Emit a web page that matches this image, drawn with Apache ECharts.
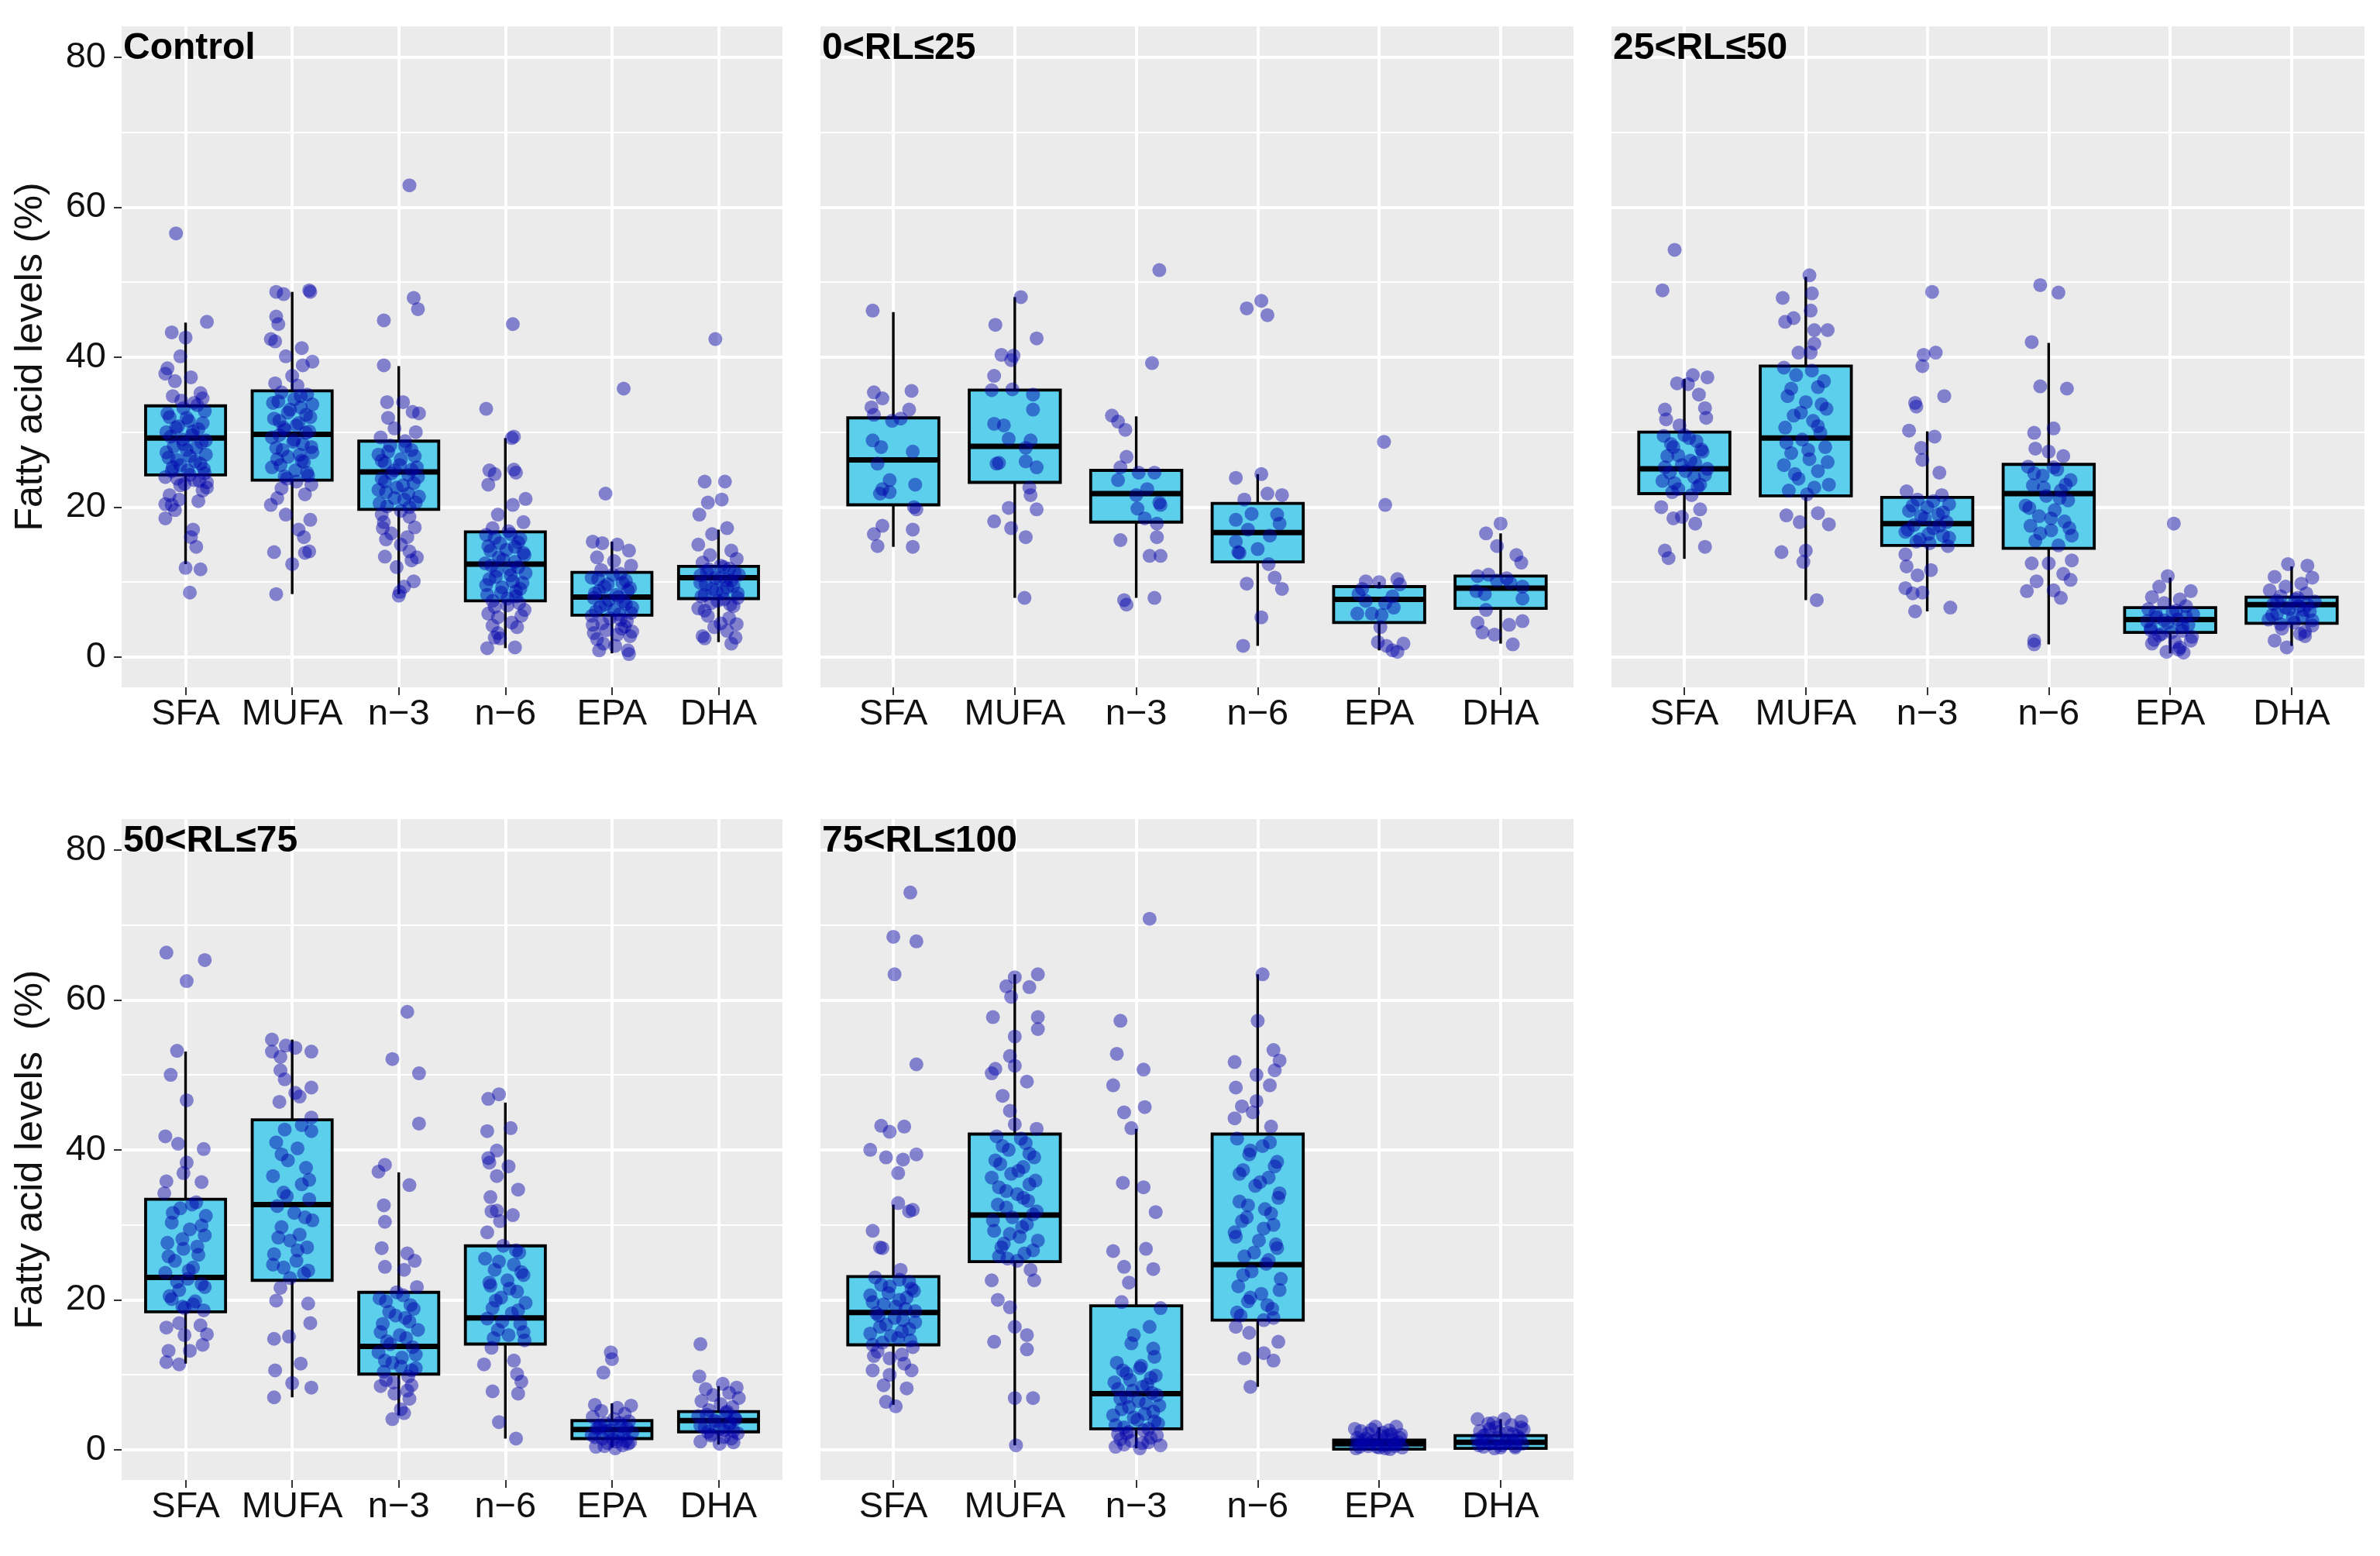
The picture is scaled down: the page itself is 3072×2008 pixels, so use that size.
<!DOCTYPE html>
<html>
<head>
<meta charset="utf-8">
<script src="https://cdn.jsdelivr.net/npm/echarts@6/dist/echarts.min.js"></script>
<style>
html,body{margin:0;padding:0;background:#fff;}
#chart{width:3072px;height:2008px;}
</style>
</head>
<body>
<div id="chart"></div>
<script>
// categories and panel labels
var cats = ['SFA', 'MUFA', 'n\u22123', 'n\u22126', 'EPA', 'DHA'];
var panelTitles = ['Control', '0<RL\u226425', '25<RL\u226450', '50<RL\u226475', '75<RL\u2264100'];
var yTicks = [0, 20, 40, 60, 80];
var yMinor = [10, 30, 50, 70];
var xTicks = [0, 1, 2, 3, 4, 5];

// box stats per category: [lower whisker, Q1, median, Q3, upper whisker]
var ctrlBox = [[12.4,24.3,29.2,33.5,44.6],[8.4,23.6,29.7,35.5,48.7],[8.4,19.7,24.7,28.8,38.8],[1.2,7.5,12.4,16.7,29.2],[0.5,5.6,8.0,11.3,15.4],[2.0,7.8,10.6,12.1,17.0]];
var rl25Box = [[14.7,20.3,26.3,31.9,46.0],[7.9,23.3,28.1,35.6,48.0],[7.9,18.0,21.8,24.9,32.1],[1.5,12.7,16.6,20.5,24.4],[0.9,4.6,7.7,9.4,10.0],[1.8,6.5,9.2,10.8,16.5]];
var rl50Box = [[13.1,21.8,25.1,30.0,37.1],[7.6,21.5,29.2,38.8,50.7],[6.1,14.9,17.8,21.3,30.1],[1.7,14.5,21.8,25.7,41.9],[0.5,3.3,5.0,6.6,10.6],[1.5,4.5,7.0,8.0,12.1]];
var rl75Box = [[11.5,18.4,23.0,33.4,53.1],[7.0,22.6,32.7,44.0,54.7],[4.6,10.1,13.8,21.0,37.0],[1.5,14.1,17.6,27.2,46.3],[0.3,1.5,2.7,3.9,6.2],[0.7,2.4,3.9,5.1,8.5]];
var rl100Box = [[6.0,14.0,18.3,23.1,32.7],[0.6,25.1,31.3,42.1,63.4],[0.2,2.8,7.5,19.2,42.8],[8.4,17.3,24.7,42.1,63.4],[0,0.1,0.8,1.3,3.0],[0,0.2,1.0,1.9,4.1]];

// jittered points: [offset from category, value]
var ctrlSFA = [[-0.09,56.5],[0.2,44.7],[-0.13,43.3],[0,42.6],[-0.05,40.1],[-0.17,38.5],[-0.19,37.8],[-0.1,36.8],[0.05,37.3],[0.14,35.2],[0.16,34.5],[-0.12,34.8],[0.08,33.9],[-0.02,33.2],[0.18,32.8],[-0.15,32.0],[0.03,31.5],[-0.07,30.8],[0.12,30.4],[-0.18,30.0],[0.06,29.6],[-0.03,29.0],[0.15,28.6],[-0.11,28.1],[0.01,27.6],[0.19,27.0],[-0.16,26.6],[0.09,26.1],[-0.05,25.6],[0.17,25.1],[-0.13,24.8],[0.04,24.3],[-0.08,23.8],[0.13,23.5],[-0.01,23.1],[0.2,22.6],[0.2,23.3],[-0.19,20.4],[-0.13,20.3],[-0.06,21.0],[-0.19,18.5],[0.07,17.0],[0.1,14.7],[0.05,16.0],[0,11.9],[0.14,11.7],[0.04,8.6],
  [-0.04,34.2],[0.11,33.6],[-0.17,32.5],[0.01,31.9],[0.16,31.2],[-0.09,30.6],[0.07,30.1],[-0.14,29.4],[0.19,28.9],[-0.02,28.4],[0.1,27.9],[-0.18,27.3],[0.04,26.8],[-0.08,26.3],[0.14,25.8],[-0.12,25.3],[0.02,24.9],[0.18,24.5],[-0.19,24.0],[0.08,23.6],[-0.05,22.9],[0.16,22.2],[-0.15,21.6],[0.12,20.8],[-0.1,19.6]];
var ctrlMUFA = [[-0.15,48.7],[0.17,48.7],[0.16,48.9],[-0.08,48.4],[-0.15,45.4],[-0.13,44.4],[-0.2,42.4],[-0.16,42.1],[0.09,41.2],[-0.06,40.1],[0.19,39.4],[0.1,38.9],[0,37.5],[-0.16,36.5],[0.05,36.2],[-0.1,35.3],[0.14,35.0],[0.02,34.4],[-0.18,33.9],[0.08,33.3],[-0.04,32.6],[0.17,32.0],[-0.12,31.5],[0.04,30.9],[-0.07,30.3],[0.13,29.9],[-0.19,29.3],[0.01,28.7],[0.18,28.0],[-0.09,27.6],[0.07,27.0],[-0.14,26.4],[0.11,26.0],[-0.11,25.6],[0.03,24.9],[0.15,24.2],[-0.05,23.8],[0.18,23.0],[-0.2,20.3],[-0.06,19.0],[0.17,18.3],[0.06,17.0],[0.11,16.0],[-0.17,14.0],[0.12,13.9],[0.16,14.1],[0,12.4],[-0.15,8.4],
  [0.08,34.8],[-0.13,34.1],[0.19,33.7],[-0.02,33.0],[0.13,32.3],[-0.17,31.8],[0.06,31.2],[-0.08,30.6],[0.16,30.1],[-0.12,29.6],[0.02,29.0],[0.1,28.4],[-0.15,27.9],[0.19,27.3],[-0.04,26.7],[0.09,26.2],[-0.19,25.3],[0.14,24.6],[-0.07,24.1],[0.04,23.4],[-0.1,22.5],[0.12,21.7],[-0.14,21.2]];
var ctrlN3 = [[0.1,62.9],[0.14,47.9],[0.18,46.4],[-0.14,44.9],[-0.14,38.9],[-0.11,34.0],[0.04,34.0],[0.19,32.5],[0.13,32.7],[-0.1,31.9],[-0.04,30.5],[0.16,30.0],[-0.17,29.3],[0.06,28.8],[-0.08,28.2],[0.12,27.6],[-0.19,27.0],[0.02,26.4],[-0.13,25.9],[0.17,25.3],[-0.04,24.9],[0.09,24.3],[-0.16,23.8],[0.14,23.2],[-0.02,22.6],[-0.12,22.0],[0.19,21.4],[0.05,21.0],[-0.18,20.5],[0.1,20.0],[-0.14,18.0],[-0.16,19.0],[0.1,18.7],[-0.07,16.5],[0.15,17.3],[-0.12,15.7],[0.02,15.0],[0.1,14.1],[-0.13,13.4],[0.17,13.3],[0.12,12.9],[0.14,10.1],[0.05,9.4],[0.01,8.7],[0,8.2],
  [0.06,28.1],[-0.1,27.4],[0.15,26.8],[-0.16,26.2],[0.01,25.6],[0.12,25.0],[-0.07,24.5],[0.18,24.0],[-0.13,23.4],[0.04,22.9],[-0.19,22.3],[0.09,21.8],[-0.04,21.2],[0.16,20.6],[-0.11,20.1],[0.02,19.5],[-0.15,17.2],[0.08,16.0],[-0.02,12.0]];
var ctrlN6 = [[0.07,44.4],[-0.18,33.1],[0.06,29.2],[0.08,29.4],[-0.15,24.9],[-0.1,24.4],[0.08,25.0],[0.1,24.6],[-0.16,23.0],[0.19,21.1],[0.07,20.3],[-0.07,19.0],[0.17,18.0],[-0.12,17.2],[0.03,16.8],[-0.18,16.3],[0.14,15.8],[-0.05,15.2],[0.09,14.7],[-0.14,14.2],[0.18,13.6],[-0.02,13.0],[-0.19,12.5],[0.12,12.0],[-0.08,11.5],[0.05,10.9],[-0.15,10.4],[0.16,9.9],[-0.03,9.3],[0.1,8.8],[-0.17,8.3],[0.02,7.8],[0.13,7.2],[-0.1,6.7],[-0.16,5.8],[0.15,5.5],[-0.12,4.2],[0.11,4.0],[-0.07,3.2],[-0.1,2.6],[-0.17,1.2],[0.09,1.3],[-0.05,2.5],
  [0.05,16.4],[-0.1,15.9],[0.12,15.3],[-0.16,14.8],[0.01,14.3],[0.17,13.9],[-0.06,13.3],[0.09,12.7],[-0.13,12.2],[0.04,11.7],[0.19,11.2],[-0.09,10.7],[0.07,10.1],[-0.18,9.6],[0.14,9.1],[-0.04,8.6],[0.1,8.1],[-0.12,7.5],[0.02,6.9],[0.18,6.3],[-0.07,5.3],[0.06,4.6]];
var ctrlEPA = [[0.11,35.8],[-0.06,21.8],[-0.18,15.4],[-0.09,15.2],[0.05,15.0],[0.16,14.2],[-0.14,13.3],[0.02,12.8],[0.18,12.2],[-0.1,11.6],[0.08,11.1],[-0.19,10.6],[0.13,10.2],[-0.04,9.7],[0.17,9.2],[-0.12,8.8],[0.04,8.3],[-0.17,7.9],[0.11,7.4],[-0.06,7.0],[0.19,6.6],[-0.15,6.1],[0.07,5.7],[-0.02,5.2],[0.14,4.8],[-0.18,4.3],[0.09,3.8],[-0.17,3.2],[0.05,3.0],[0.17,2.8],[-0.12,0.9],[0.16,0.4],[0.15,0.9],[-0.08,1.8],
  [0.01,11.0],[-0.13,10.4],[0.1,9.9],[-0.07,9.4],[0.15,8.9],[-0.16,8.5],[0.06,8.0],[-0.03,7.6],[0.13,7.1],[-0.11,6.7],[0.02,6.3],[0.18,5.9],[-0.19,5.5],[0.08,5.0],[-0.09,4.5],[0.12,4.1],[-0.05,3.6],[0.19,3.4],[-0.14,2.4],[0.03,1.5]];
var ctrlDHA = [[-0.03,42.4],[-0.13,23.4],[0.06,23.4],[-0.1,20.6],[0.03,21.0],[-0.18,19.0],[-0.06,16.4],[0.08,17.2],[-0.19,15.0],[0.12,14.2],[-0.08,13.6],[0.17,13.1],[-0.15,12.6],[0.02,12.2],[0.1,11.8],[-0.11,11.4],[0.19,11.0],[-0.03,10.6],[0.07,10.3],[-0.17,9.9],[0.14,9.5],[-0.06,9.1],[0.04,8.7],[-0.13,8.3],[0.18,7.9],[-0.01,7.5],[0.11,7.0],[-0.19,6.5],[-0.1,5.5],[0.02,4.5],[0.17,4.4],[-0.15,2.8],[0.12,1.8],[-0.13,2.5],[0.08,3.5],
  [0.05,12.0],[-0.09,11.7],[0.15,11.3],[-0.17,10.9],[0.01,10.5],[0.12,10.2],[-0.12,9.7],[0.08,9.3],[-0.02,8.9],[0.18,8.5],[-0.16,8.1],[0.05,7.7],[-0.07,7.2],[0.14,6.8],[-0.13,6.2],[0.1,5.2],[-0.04,4.0],[0.16,2.6]];

var rl25SFA = [[-0.17,46.2],[-0.16,35.3],[-0.09,34.5],[0.15,35.5],[-0.18,33.3],[0.13,33.0],[-0.16,32.3],[-0.01,31.5],[0.06,31.8],[-0.17,28.9],[-0.1,28.0],[0.16,27.4],[-0.13,25.8],[-0.03,23.6],[0.18,23.0],[-0.09,22.4],[-0.11,21.8],[-0.03,22.0],[0.17,20.0],[0.19,19.7],[-0.09,17.5],[0.16,17.0],[-0.16,16.4],[-0.13,14.8],[0.16,14.7]];
var rl25MUFA = [[0.05,48.0],[-0.16,44.3],[0.18,42.5],[-0.11,40.3],[-0.01,40.2],[-0.03,39.6],[-0.17,37.5],[-0.19,35.6],[-0.02,35.7],[0.15,35.0],[0.15,33.0],[-0.17,31.1],[-0.09,30.9],[-0.05,29.1],[0.13,28.9],[0.09,27.9],[-0.13,25.9],[-0.15,25.8],[0.18,25.3],[0.09,26.1],[0.12,22.6],[0.13,21.6],[-0.05,19.9],[0.18,19.7],[-0.17,18.1],[-0.03,17.2],[0.09,16.0],[0.08,7.9]];
var rl25N3 = [[0.19,51.6],[0.13,39.2],[-0.2,32.2],[-0.15,31.4],[-0.09,30.3],[-0.08,26.7],[-0.13,25.3],[0.02,24.6],[0.15,24.6],[-0.15,23.6],[0.09,22.4],[0,21.6],[0.19,20.6],[0.2,20.3],[0.01,19.8],[0.07,18.5],[0.17,17.8],[-0.13,15.6],[0.17,16.0],[0.11,13.5],[0.2,13.5],[-0.1,7.6],[-0.08,7.0],[0.15,7.9]];
var rl25N6 = [[0.03,47.5],[-0.09,46.5],[0.08,45.6],[0.03,24.4],[-0.18,23.9],[0.08,21.8],[0.2,21.6],[-0.11,21.0],[-0.18,18.3],[-0.05,19.1],[0.16,19.0],[0.18,17.8],[-0.18,15.4],[-0.16,14.0],[-0.15,13.9],[0,14.4],[0.09,12.4],[0.14,10.6],[-0.09,9.8],[0.2,9.1],[0.03,5.3],[-0.12,1.5],[0.1,16.2],[-0.08,17.0]];
var rl25EPA = [[0.04,28.7],[0.05,20.3],[-0.11,10.1],[0,10.0],[0.15,10.4],[0.17,9.7],[-0.17,8.4],[-0.11,7.5],[0.11,8.1],[0.05,7.2],[-0.18,5.8],[-0.06,5.8],[0.02,5.6],[0.01,4.0],[-0.01,2.0],[0.06,1.5],[0.11,0.9],[0.2,1.8],[0.15,0.7],[-0.14,9.1],[0.12,6.6]];
var rl25DHA = [[0,17.8],[-0.12,16.5],[-0.03,14.8],[0.13,13.6],[0.17,12.6],[-0.19,10.8],[-0.1,11.0],[0.05,10.5],[0.18,9.4],[-0.2,8.8],[-0.13,8.4],[0.18,7.8],[-0.12,6.3],[-0.19,4.6],[0.18,4.8],[-0.15,3.3],[0.07,4.3],[-0.05,3.0],[0.1,1.7],[0.08,9.9],[-0.03,10.2]];

var rl50SFA = [[-0.08,54.3],[-0.18,48.9],[0.07,37.6],[0.19,37.3],[-0.06,36.5],[0.03,36.4],[0.12,35.0],[-0.16,33.0],[-0.15,31.7],[0.17,33.2],[0.18,31.9],[-0.04,30.9],[0,29.6],[-0.17,29.5],[0.1,28.8],[-0.09,28.0],[0.15,27.4],[-0.14,26.8],[0.05,26.2],[-0.02,25.6],[0.19,25.1],[-0.12,24.6],[0.08,24.0],[-0.18,23.5],[0.13,23.0],[-0.05,22.4],[-0.1,22.0],[0.06,21.6],[-0.19,20.0],[0.13,19.7],[-0.09,18.5],[-0.02,18.7],[0.09,17.8],[-0.16,14.2],[-0.13,13.2],[0.17,14.7],
  [0.04,29.2],[-0.11,28.4],[0.14,27.7],[-0.05,26.9],[0.09,25.9],[-0.16,25.3],[0.01,24.8],[0.17,24.3],[-0.08,23.2],[0.11,22.7]];
var rl50MUFA = [[0.03,50.9],[0.05,48.5],[-0.19,47.9],[0.04,46.2],[-0.1,45.2],[-0.17,44.7],[0.07,43.6],[0.18,43.6],[0.07,41.8],[-0.06,40.6],[0.04,40.6],[-0.18,38.6],[-0.08,37.6],[0.15,36.8],[0.1,36.0],[-0.15,34.8],[0,34.0],[0.17,33.1],[-0.1,32.2],[0.06,31.5],[-0.17,30.6],[0.12,29.9],[-0.03,29.0],[0.16,28.0],[-0.12,27.2],[0.03,26.4],[-0.18,25.6],[0.1,24.8],[-0.06,23.8],[0.19,23.0],[-0.14,22.2],[0.01,21.7],[-0.16,18.9],[-0.05,18.0],[0.1,19.2],[0.19,17.7],[-0.2,14.0],[0,14.2],[-0.02,12.7],[0.09,7.6],
  [0.05,38.2],[-0.12,35.8],[0.13,33.7],[-0.04,32.6],[0.1,30.8],[-0.16,28.6],[0.02,27.6],[0.18,26.0],[-0.09,24.4],[0.07,22.6]];
var rl50N3 = [[0.04,48.7],[0.07,40.6],[-0.03,40.3],[-0.04,38.8],[-0.1,33.9],[-0.09,33.4],[0.14,34.8],[-0.15,30.2],[0.06,29.4],[-0.05,27.9],[-0.04,26.3],[0.1,24.6],[-0.17,22.1],[0.12,21.6],[-0.08,21.0],[0.18,20.4],[0,20.0],[-0.15,19.5],[0.09,19.0],[-0.02,18.5],[0.16,18.0],[-0.11,17.6],[0.05,17.2],[-0.18,16.7],[0.13,16.2],[-0.06,15.7],[0.02,15.2],[0.17,14.8],[-0.18,13.7],[-0.17,12.1],[-0.08,10.9],[0.03,11.6],[-0.18,9.2],[-0.12,8.5],[-0.04,8.6],[-0.1,6.1],[0.19,6.6],
  [0.05,20.8],[-0.12,20.2],[0.13,19.3],[-0.05,18.8],[0.1,17.5],[-0.16,17.0],[0.01,16.4],[0.18,15.9],[-0.09,15.4]];
var rl50N6 = [[-0.07,49.6],[0.08,48.6],[-0.14,42.0],[-0.07,36.1],[0.15,35.8],[-0.12,29.9],[0.04,30.5],[-0.11,27.8],[0,27.4],[0.12,26.8],[-0.17,25.4],[0.07,25.0],[-0.05,24.2],[0.18,23.6],[-0.13,22.9],[0.1,22.2],[-0.02,21.5],[0.16,20.9],[-0.19,20.2],[0.05,19.6],[-0.08,18.8],[0.13,18.1],[-0.15,17.5],[0.02,16.9],[0.19,16.2],[-0.11,15.5],[0.08,14.9],[-0.14,12.5],[0,12.5],[0.19,12.9],[0.12,11.1],[-0.1,10.1],[0.18,10.3],[-0.18,8.8],[0.04,8.9],[0.1,7.9],[-0.12,2.2],[-0.12,1.7],
  [0.04,25.3],[-0.12,24.5],[0.14,23.0],[-0.04,22.6],[0.09,21.2],[-0.16,19.9],[0.02,18.5],[0.17,17.2],[-0.07,16.5]];
var rl50EPA = [[0.03,17.8],[-0.02,10.8],[-0.09,9.4],[0.17,8.8],[-0.15,8.0],[0.08,7.7],[-0.05,7.2],[0.13,6.8],[-0.18,6.4],[0.02,6.0],[0.19,5.7],[-0.11,5.3],[0.06,5.0],[-0.02,4.6],[0.15,4.3],[-0.16,3.9],[0.1,3.5],[-0.07,3.1],[0.18,2.7],[-0.13,2.3],[0.04,2.0],[-0.15,1.8],[-0.03,0.7],[0.11,0.6],[0.08,1.3],[-0.19,4.8],
  [0.05,6.2],[-0.12,5.9],[0.13,5.4],[-0.05,4.9],[0.1,4.1],[-0.16,3.6],[0.01,3.3],[0.17,2.2],[-0.09,2.9],[0.07,1.0]];
var rl50DHA = [[-0.03,12.4],[0.13,12.2],[0.17,10.6],[-0.14,10.7],[-0.05,9.4],[0.08,9.8],[-0.18,8.9],[0.12,8.5],[-0.09,8.1],[0.03,7.7],[0.19,7.4],[-0.15,7.1],[0.06,6.8],[-0.02,6.4],[0.15,6.1],[-0.12,5.8],[0.09,5.4],[-0.19,5.0],[0.02,4.6],[0.17,4.2],[-0.08,3.8],[0.11,3.4],[-0.14,2.2],[0.11,2.8],[-0.04,1.3],
  [0.05,7.9],[-0.12,7.5],[0.13,7.0],[-0.05,6.6],[0.1,6.3],[-0.16,5.6],[0.01,5.2],[0.17,4.9],[-0.09,4.4],[0.07,3.1]];

var rl75SFA = [[-0.18,66.3],[0.18,65.3],[0.01,62.5],[-0.08,53.2],[-0.14,50.0],[0.01,46.6],[-0.19,41.8],[-0.07,40.8],[0.17,40.1],[0.01,38.3],[-0.02,36.9],[-0.18,35.8],[0.15,35.7],[-0.2,34.2],[0.1,33.0],[-0.05,32.2],[0.19,31.2],[-0.13,30.3],[0.04,29.4],[0.18,28.6],[-0.17,27.6],[-0.02,26.8],[0.12,26.0],[-0.1,25.2],[0.07,24.3],[-0.19,23.6],[0.02,22.8],[0.15,22.1],[-0.06,21.3],[-0.15,20.5],[0.09,19.8],[-0.03,19.1],[0.17,18.6],[-0.06,16.9],[0.14,16.6],[-0.18,16.3],[-0.01,15.3],[0.2,15.4],[0.16,14.0],[-0.16,13.2],[0.04,13.2],[-0.18,11.7],[-0.06,11.4],
  [0.06,32.7],[-0.12,31.6],[0.15,29.9],[-0.03,28.1],[0.11,27.1],[-0.16,25.8],[0.03,23.9],[-0.08,22.4],[0.18,21.7],[-0.13,20.1],[0.07,19.4],[-0.01,18.9]];
var rl75MUFA = [[-0.19,54.7],[-0.19,53.1],[-0.06,53.9],[0.03,53.6],[0.18,53.1],[-0.11,52.4],[-0.11,50.6],[-0.07,49.4],[0.18,48.3],[0.03,47.6],[0.07,47.1],[-0.12,46.4],[0.18,44.3],[-0.07,42.7],[0.18,42.5],[-0.15,41.0],[0.05,40.2],[-0.04,38.6],[0.13,37.6],[-0.18,36.5],[0.09,35.4],[-0.08,34.3],[0.16,33.4],[-0.14,32.5],[0.02,31.6],[0.19,30.6],[-0.1,29.7],[0.07,28.7],[-0.02,27.9],[0.14,27.0],[-0.17,26.1],[0.04,25.2],[-0.08,24.3],[0.11,23.5],[-0.11,21.6],[-0.15,19.9],[0.15,19.5],[0.17,16.9],[-0.17,14.8],[-0.03,15.1],[0.08,11.5],[-0.16,10.6],[0,8.9],[0.18,8.3],[-0.17,7.0],
  [0.09,43.3],[-0.1,39.4],[0.16,36.0],[-0.05,33.8],[0.12,31.0],[-0.13,28.3],[0.05,26.6],[-0.18,24.7],[0.15,23.9],[-0.02,22.9]];
var rl75N3 = [[0.08,58.4],[-0.06,52.1],[0.19,50.2],[0.19,43.5],[-0.13,38.0],[-0.19,37.1],[0.1,35.3],[-0.14,32.6],[-0.13,30.4],[-0.16,26.9],[0.08,26.2],[0.15,25.2],[-0.13,24.4],[0.05,24.0],[0.17,21.7],[-0.02,21.0],[-0.18,20.2],[0.11,19.3],[-0.09,18.4],[0.06,17.6],[-0.15,16.8],[0.18,16.0],[0.01,15.3],[-0.11,14.5],[0.13,13.7],[-0.19,13.0],[0.03,12.3],[-0.06,11.6],[0.16,10.9],[-0.14,10.4],[0.09,9.8],[-0.17,8.5],[-0.04,7.5],[0.1,6.8],[0.02,5.4],[0.05,4.9],[-0.06,4.1],[-0.12,9.3],[0.12,8.6],
  [0.04,20.6],[-0.12,19.8],[0.14,18.8],[-0.03,17.9],[0.1,17.1],[-0.17,15.7],[0.07,14.9],[-0.08,14.1],[0.16,12.7],[-0.13,11.9],[0.02,11.1],[0.12,10.6],[-0.05,9.0],[0.08,7.9]];
var rl75N6 = [[-0.16,46.8],[-0.06,47.4],[-0.17,42.5],[0.05,42.9],[-0.16,38.9],[-0.15,38.3],[-0.08,39.9],[0.03,37.8],[-0.08,36.5],[0.12,34.7],[-0.14,33.7],[-0.13,31.8],[-0.08,31.9],[0.07,31.3],[-0.05,30.5],[-0.17,29.0],[-0.02,27.2],[0.13,26.3],[-0.19,25.5],[0.08,24.7],[-0.1,24.0],[0.17,23.3],[0.02,22.6],[-0.14,21.9],[0.11,21.1],[-0.04,20.3],[0.19,19.6],[-0.12,18.9],[0.06,18.2],[-0.17,17.5],[0.14,16.8],[-0.07,16.0],[0.03,15.3],[0.18,14.6],[-0.13,13.6],[-0.2,11.4],[0.08,11.9],[0.11,10.1],[0.15,9.1],[-0.12,7.8],[0.12,7.5],[-0.06,3.7],[0.1,1.5],
  [0.1,26.6],[-0.06,25.1],[0.15,23.7],[-0.15,22.3],[0.04,21.5],[-0.09,19.9],[0.12,18.6],[-0.03,17.1],[0.17,15.7],[-0.11,14.9]];
var rl75EPA = [[-0.01,13.0],[0,12.1],[-0.08,10.3],[-0.16,6.0],[0.18,5.9],[0.05,5.6],[-0.1,5.2],[0.12,4.8],[-0.18,4.4],[0.02,4.1],[0.16,3.8],[-0.06,3.5],[0.09,3.2],[-0.14,2.9],[-0.02,2.6],[0.19,2.3],[-0.19,2.0],[0.06,1.8],[-0.09,1.5],[0.13,1.2],[-0.04,0.9],[0.1,0.6],[-0.15,0.4],[0.03,0.2],[0.17,1.0],[-0.12,3.0],
  [0.07,3.6],[-0.11,3.3],[0.14,2.9],[-0.04,2.5],[0.11,2.1],[-0.16,1.7],[0.01,1.4],[0.15,0.8],[-0.07,0.5],[0.04,1.1]];
var rl75DHA = [[-0.17,14.1],[-0.18,9.8],[0.04,8.8],[0.17,8.3],[-0.12,8.1],[0.1,7.6],[-0.05,7.3],[0.19,6.9],[-0.16,6.5],[0.02,6.1],[0.13,5.7],[-0.09,5.3],[0.07,4.9],[-0.19,4.5],[0.16,4.1],[-0.02,3.8],[0.1,3.4],[-0.13,3.0],[0.05,2.6],[0.18,2.2],[-0.07,1.9],[0.12,1.5],[-0.17,1.1],[0.01,0.8],[-0.1,2.4],[0.14,1.0],
  [0.08,5.1],[-0.11,4.7],[0.15,4.3],[-0.04,3.9],[0.11,3.6],[-0.17,3.2],[0.01,2.8],[0.14,2.5],[-0.07,2.1],[0.05,1.7]];

var rl100SFA = [[0.14,74.3],[0,68.4],[0.19,67.8],[0.01,63.4],[0.19,51.4],[-0.1,43.2],[0.09,43.1],[-0.03,42.4],[-0.19,40.0],[-0.06,39.0],[0.19,39.4],[0.08,38.7],[0.04,36.9],[0.04,32.9],[0.16,32.0],[0.13,31.8],[-0.17,29.2],[-0.11,27.0],[-0.09,26.9],[0.06,24.0],[-0.15,23.0],[0.13,22.4],[-0.03,21.8],[0.17,21.2],[-0.19,20.6],[0.05,20.0],[-0.08,19.4],[0.1,18.8],[-0.14,18.2],[0.01,17.6],[0.18,17.0],[-0.11,16.4],[0.07,15.8],[-0.02,15.2],[0.14,14.6],[-0.17,14.0],[-0.16,12.5],[-0.03,12.2],[0.07,12.7],[-0.17,10.6],[0.15,10.6],[0.11,8.2],[-0.08,8.6],[-0.06,6.4],[0.02,5.8],
  [0.05,22.7],[-0.1,22.0],[0.15,21.5],[-0.04,20.9],[0.11,20.3],[-0.17,19.7],[0.02,19.1],[0.18,18.5],[-0.12,17.9],[0.08,17.3],[-0.06,16.7],[0.13,16.1],[-0.19,15.5],[0.04,14.9],[-0.09,14.3],[0.16,13.7],[-0.13,13.1],[0.09,11.5],[-0.03,10.0]];
var rl100MUFA = [[0.19,63.4],[0,63.0],[-0.07,61.8],[0.12,61.7],[-0.03,60.4],[-0.18,57.7],[0.19,57.7],[0.19,56.1],[0,55.1],[-0.04,52.5],[-0.19,50.2],[-0.16,50.8],[0,51.2],[0.1,49.1],[-0.1,47.2],[-0.04,45.2],[0,43.4],[0.18,42.8],[-0.15,41.8],[0.09,40.9],[-0.05,40.0],[0.16,39.0],[-0.12,38.1],[0.03,37.2],[-0.19,36.3],[0.12,35.4],[-0.07,34.5],[0.07,33.6],[-0.14,32.7],[0.18,31.8],[-0.02,31.0],[0.1,30.1],[-0.17,29.2],[0.04,28.4],[-0.09,27.5],[0.15,26.6],[-0.13,25.8],[0.02,25.2],[-0.19,22.6],[0.16,22.6],[-0.14,20.0],[-0.04,19.0],[0,16.4],[0.1,15.3],[0.1,13.4],[-0.17,14.4],[0,6.9],[0.15,6.9],[0.01,0.6],
  [0.05,41.5],[-0.1,40.5],[0.12,39.5],[-0.16,38.6],[0.07,37.7],[-0.03,36.8],[0.17,35.9],[-0.13,35.0],[0.02,34.1],[0.11,33.2],[-0.07,32.3],[0.15,31.4],[-0.18,30.6],[0.06,29.7],[-0.04,28.8],[0.19,27.9],[-0.11,27.0],[0.08,26.2],[-0.06,25.5],[0.13,24.0]];
var rl100N3 = [[0.11,70.8],[-0.13,57.2],[-0.16,52.8],[0.06,50.7],[-0.19,48.6],[0.07,45.7],[-0.1,45.0],[-0.04,42.9],[-0.11,35.6],[0.06,35.0],[0.16,31.7],[-0.19,26.5],[0.08,26.8],[-0.1,24.4],[0.14,24.1],[-0.06,22.3],[-0.12,19.7],[0.2,18.9],[0.11,16.4],[-0.04,14.2],[0.15,12.4],[-0.16,11.6],[0.03,10.9],[-0.08,10.2],[0.12,9.6],[-0.18,9.0],[0.05,8.4],[-0.03,7.9],[0.17,7.3],[-0.13,6.8],[0.08,6.2],[-0.06,5.7],[0.14,5.1],[-0.19,4.6],[0.01,4.0],[0.18,3.5],[-0.1,3.0],[0.06,2.6],[-0.15,2.1],[0.12,1.6],[-0.04,1.2],[0.2,0.6],[-0.17,0.4],[0.03,0.2],[-0.08,2.2],[0.1,1.0],
  [0.04,11.2],[-0.11,10.6],[0.16,9.9],[-0.05,9.3],[0.09,8.7],[-0.15,8.1],[0.13,7.6],[-0.08,7.0],[0.02,6.5],[0.19,5.9],[-0.12,5.4],[0.07,4.8],[-0.02,4.3],[0.15,3.8],[-0.17,3.3],[0.1,2.8],[-0.06,2.4],[0.17,1.9],[-0.13,1.4],[0.05,0.9],[-0.1,0.7],[0.14,13.5],[-0.02,15.3]];
var rl100N6 = [[0.04,63.4],[0,57.2],[0.13,53.3],[0.18,51.9],[-0.19,51.7],[-0.01,50.0],[0.14,50.6],[0.1,48.6],[-0.18,48.3],[-0.13,45.8],[-0.01,46.5],[-0.04,45.0],[-0.19,44.2],[0.11,43.1],[-0.17,41.5],[0.04,40.5],[-0.07,39.4],[0.16,38.4],[-0.12,37.3],[0.09,36.3],[-0.02,35.2],[0.18,34.2],[-0.15,33.1],[0.06,32.1],[-0.09,31.0],[0.13,30.0],[-0.19,29.0],[0.01,27.9],[0.16,26.9],[-0.11,25.8],[0.07,24.8],[-0.05,23.8],[0.19,22.8],[-0.16,21.8],[0.03,20.8],[-0.08,19.8],[0.12,18.8],[-0.14,17.9],[0.05,17.3],[-0.18,16.4],[-0.07,15.6],[0.17,14.4],[-0.11,12.2],[0.13,11.9],[0.05,12.9],[-0.06,8.4],
  [0.1,41.0],[-0.06,39.9],[0.14,37.8],[-0.15,36.8],[0.02,35.7],[0.17,33.6],[-0.08,32.6],[0.11,31.5],[-0.13,30.5],[0.05,29.5],[-0.18,28.4],[0.15,27.4],[-0.03,26.3],[0.09,25.3],[-0.12,23.3],[0.18,21.3],[-0.06,20.3],[0.08,19.3],[-0.17,18.3],[0.13,17.6]];
var rl100EPA = [[-0.2,2.8],[-0.03,3.1],[0.14,3.1],[-0.15,2.5],[0.08,2.6],[-0.09,2.2],[0.18,2.0],[0.02,1.8],[-0.18,1.6],[0.11,1.4],[-0.05,1.2],[0.16,1.0],[-0.13,0.8],[0.05,0.6],[-0.02,0.4],[0.19,0.3],[-0.19,0.2],[0.09,0.1],[-0.07,0.9],[0.13,0.5],[-0.11,1.5],[0.03,2.3],[-0.16,0.4],[0.07,1.9],
  [0,0.3],[-0.14,1.3],[0.1,2.1],[-0.06,2.7],[0.17,1.6],[-0.18,1.0],[0.05,0.2],[-0.01,1.4],[0.12,0.8],[-0.09,0.5]];
var rl100DHA = [[-0.19,4.1],[0.03,4.1],[0.17,3.8],[-0.1,3.5],[0.09,3.3],[-0.04,3.0],[0.19,2.7],[-0.17,2.5],[0.06,2.3],[-0.12,2.0],[0.14,1.8],[-0.02,1.6],[-0.19,1.4],[0.1,1.2],[-0.07,1.0],[0.18,0.8],[0.01,0.6],[-0.14,0.4],[0.12,0.3],[-0.05,0.2],[0.16,1.5],[-0.09,2.8],[0.04,0.9],[-0.16,1.1],
  [0,0.3],[-0.14,1.9],[0.1,2.1],[-0.06,3.6],[0.17,3.0],[-0.18,0.6],[0.05,1.3],[-0.01,2.4],[0.12,0.5],[-0.09,0.8]];

var panelBoxes = [ctrlBox, rl25Box, rl50Box, rl75Box, rl100Box];
var panelPoints = [
  [ctrlSFA, ctrlMUFA, ctrlN3, ctrlN6, ctrlEPA, ctrlDHA],
  [rl25SFA, rl25MUFA, rl25N3, rl25N6, rl25EPA, rl25DHA],
  [rl50SFA, rl50MUFA, rl50N3, rl50N6, rl50EPA, rl50DHA],
  [rl75SFA, rl75MUFA, rl75N3, rl75N6, rl75EPA, rl75DHA],
  [rl100SFA, rl100MUFA, rl100N3, rl100N6, rl100EPA, rl100DHA]
];

var font = 'Liberation Sans, Arial, Helvetica, sans-serif';
var grids = [
  {left: 157, top: 34, width: 853, height: 853},
  {left: 1059, top: 34, width: 972, height: 853},
  {left: 2080, top: 34, width: 972, height: 853},
  {left: 157, top: 1057, width: 853, height: 853},
  {left: 1059, top: 1057, width: 972, height: 853}
];
var leftPanels = [true, false, false, true, false];
var yNames = ['Fatty acid levels (%)', '', '', 'Fatty acid levels  (%)', ''];

function renderBox(params, api) {
  var x = api.value(0);
  var half = api.size([0.75, 0])[0] / 2;
  var pMin = api.coord([x, api.value(1)]);
  var pQ1 = api.coord([x, api.value(2)]);
  var pMed = api.coord([x, api.value(3)]);
  var pQ3 = api.coord([x, api.value(4)]);
  var pMax = api.coord([x, api.value(5)]);
  var ln = {stroke: '#000', lineWidth: 3.4};
  return {
    type: 'group',
    children: [
      {type: 'line', shape: {x1: pMax[0], y1: pMax[1], x2: pQ3[0], y2: pQ3[1]}, style: ln},
      {type: 'line', shape: {x1: pQ1[0], y1: pQ1[1], x2: pMin[0], y2: pMin[1]}, style: ln},
      {type: 'rect', shape: {x: pQ3[0] - half, y: pQ3[1], width: half * 2, height: pQ1[1] - pQ3[1]},
        style: {fill: '#5BCFEB', stroke: '#000', lineWidth: 3.8}},
      {type: 'line', shape: {x1: pMed[0] - half, y1: pMed[1], x2: pMed[0] + half, y2: pMed[1]},
        style: {stroke: '#000', lineWidth: 7}}
    ]
  };
}

var xAxes = [], yAxes = [], series = [], titles = [];
grids.forEach(function (g, i) {
  g.show = true;
  g.backgroundColor = '#EBEBEB';
  g.borderWidth = 0;
  g.containLabel = false;

  xAxes.push({
    gridIndex: i, type: 'value', min: -0.6, max: 5.6,
    axisLine: {show: false, onZero: false},
    axisTick: {show: true, customValues: xTicks, length: 10, lineStyle: {color: '#333', width: 2}},
    axisLabel: {customValues: xTicks, fontSize: 47, color: '#111', fontFamily: font, margin: 12,
      formatter: function (v) { return cats[Math.round(v)]; }},
    splitLine: {show: true, lineStyle: {color: '#fff', width: 4}}
  });
  // major y axis
  yAxes.push({
    gridIndex: i, type: 'value', min: -4.03, max: 84.1,
    name: yNames[i], nameLocation: 'middle', nameGap: 92,
    nameTextStyle: {fontSize: 50, color: '#111', fontFamily: font},
    axisLine: {show: false, onZero: false},
    axisTick: {show: leftPanels[i], customValues: yTicks, length: 10, lineStyle: {color: '#333', width: 2}},
    axisLabel: {show: leftPanels[i], customValues: yTicks, fontSize: 47, color: '#111', fontFamily: font, margin: 20},
    splitLine: {show: true, lineStyle: {color: '#fff', width: 4}}
  });
  // minor y grid lines
  yAxes.push({
    gridIndex: i, type: 'value', min: -4.03, max: 84.1, position: 'left',
    axisLine: {show: false, onZero: false},
    axisTick: {show: false, customValues: yMinor},
    axisLabel: {show: false, customValues: yMinor},
    splitLine: {show: true, lineStyle: {color: '#fff', width: 2}}
  });

  series.push({
    type: 'custom', xAxisIndex: i, yAxisIndex: i * 2, silent: true,
    renderItem: renderBox,
    encode: {x: 0, y: [1, 2, 3, 4, 5]},
    data: panelBoxes[i].map(function (b, k) { return [k].concat(b); }),
    z: 2
  });

  var pts = [];
  panelPoints[i].forEach(function (arr, k) {
    arr.forEach(function (p) { pts.push([k + p[0], p[1]]); });
  });
  series.push({
    type: 'scatter', xAxisIndex: i, yAxisIndex: i * 2, silent: true,
    symbolSize: 18,
    itemStyle: {color: 'rgba(0,0,170,0.57)'},
    data: pts, z: 3
  });

  titles.push({
    text: panelTitles[i], left: g.left + 2, top: g.top + 5, padding: 0,
    textStyle: {fontSize: 48, fontWeight: 'bold', color: '#000', fontFamily: font}
  });
});

var chart = echarts.init(document.getElementById('chart'), null, {renderer: 'canvas'});
chart.setOption({
  animation: false,
  backgroundColor: '#fff',
  title: titles,
  grid: grids,
  xAxis: xAxes,
  yAxis: yAxes,
  series: series
});
</script>
</body>
</html>
